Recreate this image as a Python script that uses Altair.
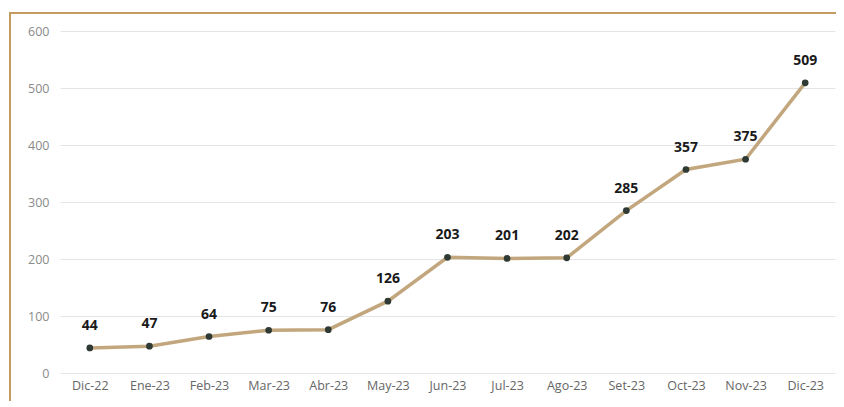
import altair as alt
import pandas as pd

months = ["Dic-22", "Ene-23", "Feb-23", "Mar-23", "Abr-23", "May-23", "Jun-23",
          "Jul-23", "Ago-23", "Set-23", "Oct-23", "Nov-23", "Dic-23"]
values = [44, 47, 64, 75, 76, 126, 203, 201, 202, 285, 357, 375, 509]
y_ticks = [0, 100, 200, 300, 400, 500, 600]

df = pd.DataFrame({"mes": months, "valor": values})

x = alt.X("mes:N", sort=months, title=None,
          scale=alt.Scale(type="point", padding=0.5),
          axis=alt.Axis(labelAngle=0, ticks=False, domain=False, grid=False,
                        labelColor="#666666", labelFontSize=12.5, labelFont="Open Sans",
                        labelPadding=6))
y = alt.Y("valor:Q", title=None,
          scale=alt.Scale(domain=[0, 600], nice=False),
          axis=alt.Axis(values=y_ticks, ticks=False, domain=False, gridColor="#e4e4e4",
                        gridWidth=1, labelColor="#8a8a8a", labelFontSize=12.5,
                        labelFont="Open Sans", labelPadding=11))

base = alt.Chart(df)

border = base.mark_rule(color="#c49c62", strokeWidth=2, clip=False).encode(
    x=alt.value(-50), x2=alt.value(790), y=alt.value(-18))
border_left = base.mark_rule(color="#c49c62", strokeWidth=2, clip=False).encode(
    x=alt.value(-50), y=alt.value(-19), y2=alt.value(400))

line = base.mark_line(color="#c2a77e", strokeWidth=3.5).encode(x=x, y=y)
points = base.mark_circle(color="#2e3a33", size=45, opacity=1).encode(x=x, y=y)
labels = base.mark_text(dy=-22, fontWeight="bold", fontSize=14, font="Open Sans",
                        color="#1a1a1a").encode(x=x, y=y, text="valor:Q")

chart = alt.layer(line, points, labels, border, border_left).properties(
    width=775, height=342,
    autosize=alt.AutoSizeParams(type="none"),
    padding={"left": 52, "top": 23, "right": 1, "bottom": 28},
).configure_view(stroke=None)

chart.save("out.html", embed_options={"renderer": "svg", "actions": False})
